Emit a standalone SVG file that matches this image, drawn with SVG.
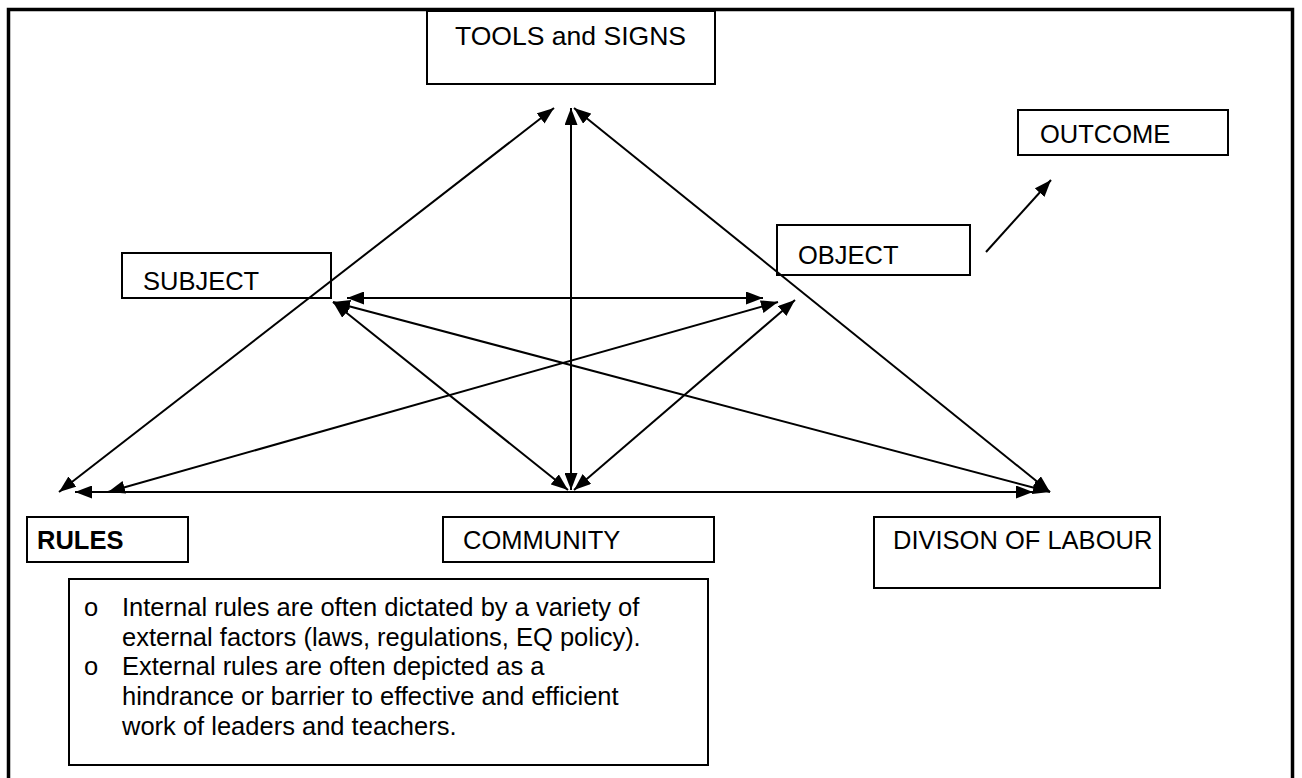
<svg xmlns="http://www.w3.org/2000/svg" width="1302" height="778" viewBox="0 0 1302 778">
  <style>
    .frame { fill: none; stroke: #000; stroke-width: 3.5; }
    .box { fill: none; stroke: #000; stroke-width: 2; }
    .label { font-family: "Liberation Sans", Arial, sans-serif; font-size: 25.5px; fill: #000; }
    .bold { font-weight: bold; }
    .link { stroke: #000; stroke-width: 2; fill: none; marker-end: url(#head); }
    .both { marker-start: url(#head); }
  </style>
  <defs>
    <marker id="head" viewBox="0 0 17 13" refX="17" refY="6.5" markerWidth="17" markerHeight="13" markerUnits="userSpaceOnUse" orient="auto-start-reverse">
      <path d="M0,0 L17,6.5 L0,13 Z" fill="#000"/>
    </marker>
  </defs>

  <!-- page border -->
  <rect class="frame" x="8.5" y="9.5" width="1284" height="790"/>

  <g id="tools">
    <rect class="box" x="427" y="11" width="288" height="73"/>
    <text class="label" x="455" y="45" textLength="231" lengthAdjust="spacingAndGlyphs">TOOLS and SIGNS</text>
  </g>

  <g id="outcome">
    <rect class="box" x="1018" y="110" width="210" height="45"/>
    <text class="label" x="1040" y="143">OUTCOME</text>
  </g>

  <g id="object">
    <rect class="box" x="777" y="225" width="193" height="50"/>
    <text class="label" x="798" y="264">OBJECT</text>
  </g>

  <g id="subject">
    <rect class="box" x="122" y="253" width="209" height="45"/>
    <text class="label" x="143" y="290">SUBJECT</text>
  </g>

  <g id="rules">
    <rect class="box" x="27" y="517" width="161" height="45"/>
    <text class="label bold" x="37" y="549">RULES</text>
  </g>

  <g id="community">
    <rect class="box" x="443" y="517" width="271" height="45"/>
    <text class="label" x="463" y="549">COMMUNITY</text>
  </g>

  <g id="division">
    <rect class="box" x="874" y="517" width="286" height="71"/>
    <text class="label" x="893" y="549">DIVISON OF LABOUR</text>
  </g>

  <g id="notes">
    <rect class="box" x="69" y="579" width="639" height="186"/>
    <text class="label" x="84" y="616">o</text>
    <text class="label" x="122" y="616">Internal rules are often dictated by a variety of</text>
    <text class="label" x="122" y="646">external factors (laws, regulations, EQ policy).</text>
    <text class="label" x="84" y="675">o</text>
    <text class="label" x="122" y="675">External rules are often depicted as a</text>
    <text class="label" x="122" y="705">hindrance or barrier to effective and efficient</text>
    <text class="label" x="122" y="735">work of leaders and teachers.</text>
  </g>

  <!-- connectors -->
  <g id="connectors">
    <line class="link both" x1="554" y1="108" x2="59" y2="492"/>
    <line class="link both" x1="571" y1="108" x2="571" y2="490"/>
    <line class="link both" x1="574" y1="108" x2="1050" y2="492"/>
    <line class="link both" x1="347" y1="298" x2="763" y2="298"/>
    <line class="link both" x1="333" y1="302" x2="568" y2="490"/>
    <line class="link both" x1="333" y1="302" x2="1050" y2="492"/>
    <line class="link both" x1="108" y1="492" x2="778" y2="302"/>
    <line class="link both" x1="574" y1="490" x2="795" y2="300"/>
    <line class="link both" x1="75" y1="492" x2="1033" y2="492"/>
    <line class="link" x1="986" y1="252" x2="1051" y2="180"/>
  </g>
</svg>
